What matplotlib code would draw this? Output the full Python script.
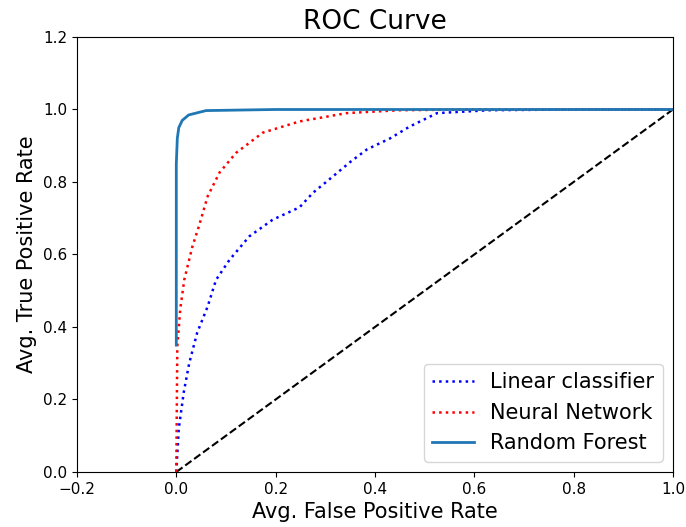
import matplotlib
matplotlib.use("Agg")
import matplotlib.pyplot as plt

# Linear classifier ROC
lin_fpr = [0.0, 0.005, 0.015, 0.026, 0.042, 0.063, 0.08, 0.107, 0.147, 0.194, 0.248, 0.275, 0.315, 0.35, 0.384, 0.43, 0.47, 0.525, 0.63, 0.8, 1.0]
lin_tpr = [0.0, 0.12, 0.22, 0.30, 0.384, 0.456, 0.53, 0.585, 0.65, 0.696, 0.73, 0.77, 0.815, 0.855, 0.89, 0.92, 0.953, 0.99, 0.998, 1.0, 1.0]

# Neural network ROC
nn_fpr = [0.0, 0.002, 0.008, 0.016, 0.032, 0.046, 0.063, 0.087, 0.12, 0.174, 0.248, 0.343, 0.45, 0.6, 1.0]
nn_tpr = [0.0, 0.345, 0.45, 0.53, 0.62, 0.68, 0.76, 0.826, 0.88, 0.936, 0.967, 0.99, 0.998, 1.0, 1.0]

# Random forest ROC
rf_fpr = [0.0, 0.0, 0.002, 0.005, 0.012, 0.025, 0.06, 0.2, 1.0]
rf_tpr = [0.35, 0.85, 0.92, 0.95, 0.97, 0.985, 0.997, 1.0, 1.0]

chance = [0.0, 1.0]

fig = plt.figure(figsize=(6.86, 5.27), dpi=100)
ax = fig.add_axes([0.1122, 0.1044, 0.8688, 0.8254])

ax.plot(chance, chance, 'k--', linewidth=1.5)
ax.plot(lin_fpr, lin_tpr, ':', color='blue', linewidth=1.8, label='Linear classifier')
ax.plot(nn_fpr, nn_tpr, ':', color='red', linewidth=1.8, label='Neural Network')
ax.plot(rf_fpr, rf_tpr, '-', color='#1f77b4', linewidth=2, label='Random Forest')

ax.set_xlim(-0.2, 1.0)
ax.set_ylim(0.0, 1.2)
ax.set_xticks([-0.2, 0.0, 0.2, 0.4, 0.6, 0.8, 1.0])
ax.set_yticks([0.0, 0.2, 0.4, 0.6, 0.8, 1.0, 1.2])
ax.tick_params(labelsize=11)

ax.set_title('ROC Curve', fontsize=19)
ax.set_xlabel('Avg. False Positive Rate', fontsize=15)
ax.set_ylabel('Avg. True Positive Rate', fontsize=15)
ax.legend(loc='lower right', fontsize=15)

fig.savefig('out.png', dpi=100)
